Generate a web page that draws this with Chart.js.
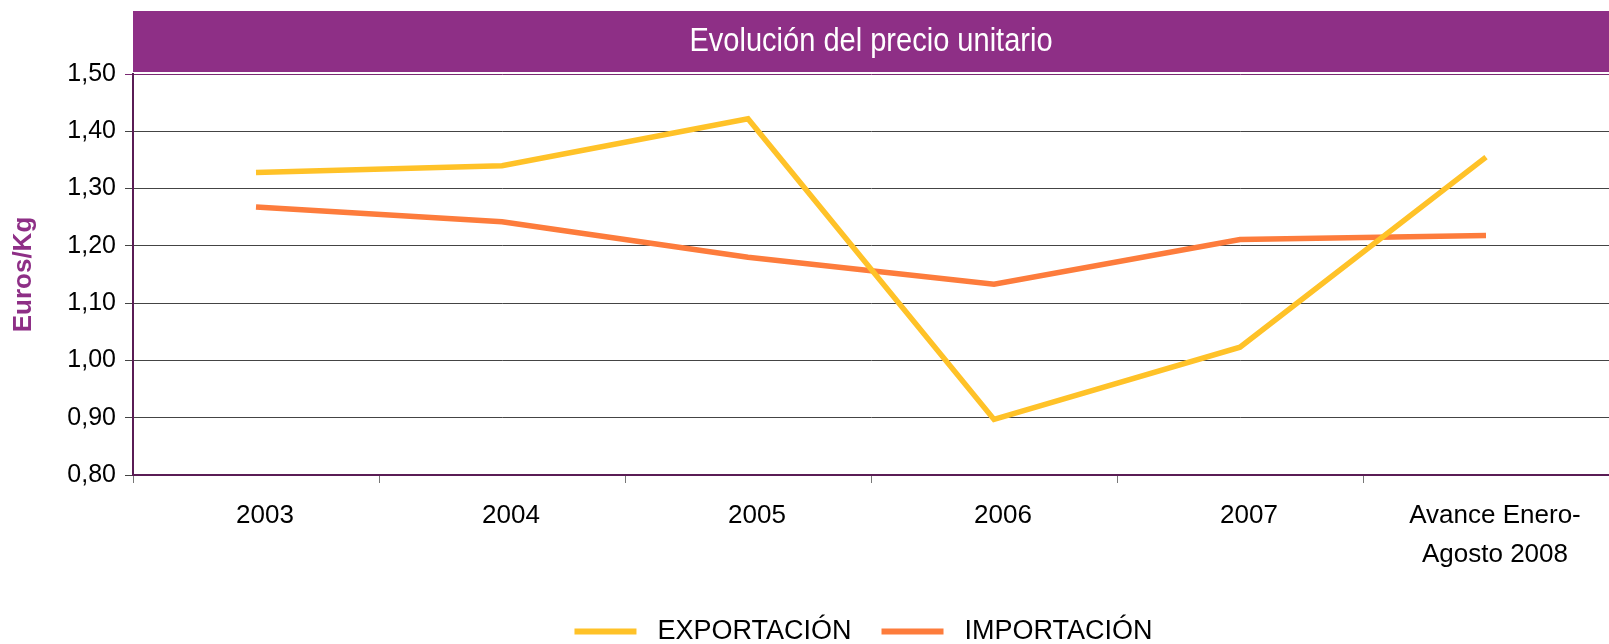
<!DOCTYPE html>
<html lang="es">
<head>
<meta charset="utf-8">
<title>Evolución del precio unitario</title>
<script src="https://cdn.jsdelivr.net/npm/chart.js@4/dist/chart.umd.min.js"></script>
<style>
  html, body { margin: 0; padding: 0; background: #ffffff; }
  #wrap { width: 1609px; height: 644px; }
</style>
</head>
<body>
<div id="wrap"><canvas id="myChart" width="1609" height="644"></canvas></div>
<script>
// chart data
var categories = ['2003', '2004', '2005', '2006', '2007', ['Avance Enero-', 'Agosto 2008']];
var exportacion = [1.328, 1.340, 1.422, 0.897, 1.023, 1.355];
var importacion = [1.268, 1.242, 1.180, 1.133, 1.211, 1.218];
var seriesNames = ['EXPORTACIÓN', 'IMPORTACIÓN'];
var chartTitle = 'Evolución del precio unitario';
var axisTitle = 'Euros/Kg';

var PURPLE = '#8E2F86';

/**
 * Purple header band above the plot with the title text in it
 * (title is a narrow face, so squeeze Liberation Sans a bit)
 */
var headerBand = {
  id: 'headerBand',
  beforeDraw: function(chart) {
    var ctx = chart.ctx;
    var area = chart.chartArea;
    ctx.save();
    ctx.fillStyle = PURPLE;
    ctx.fillRect(area.left, 11, chart.width - area.left, 61);
    ctx.fillStyle = '#ffffff';
    ctx.font = '33px "Liberation Sans", Arial, sans-serif';
    ctx.textAlign = 'center';
    ctx.textBaseline = 'middle';
    ctx.translate((area.left + chart.width) / 2, 42);
    ctx.scale(0.88, 1);
    ctx.fillText(chartTitle, 0, 0);
    ctx.restore();
  }
};

function drawChart() {
  var element = document.getElementById('myChart').getContext('2d');
  Chart.defaults.font.family = '"Liberation Sans", Arial, sans-serif';
  Chart.defaults.color = '#000000';

  var myChart = new Chart(element, {
    type: 'line',
    data: {
      labels: categories,
      datasets: [
        {
          label: seriesNames[0],
          data: exportacion,
          borderColor: '#FFC228',
          backgroundColor: '#FFC228',
          borderWidth: 5.5,
          pointRadius: 0,
          tension: 0,
          fill: false
        },
        {
          label: seriesNames[1],
          data: importacion,
          borderColor: '#FD7C3C',
          backgroundColor: '#FD7C3C',
          borderWidth: 5.5,
          pointRadius: 0,
          tension: 0,
          fill: false
        }
      ]
    },
    options: {
      responsive: false,
      animation: false,
      devicePixelRatio: 1,
      layout: { padding: { top: 74, left: 0, right: 0, bottom: -11 } },
      plugins: {
        title: { display: false },
        tooltip: { enabled: false },
        legend: {
          position: 'bottom',
          fullSize: false,
          labels: {
            font: { size: 27 },
            color: '#000000',
            boxWidth: 62,
            boxHeight: 6,
            padding: 30,
            generateLabels: function(chart) {
              var items = Chart.defaults.plugins.legend.labels.generateLabels(chart);
              items.forEach(function(item, i) {
                item.text = ' ' + item.text + (i === items.length - 1 ? '  ' : '');
                item.fillStyle = item.strokeStyle;
                item.lineWidth = 0;
              });
              return items;
            }
          }
        }
      },
      scales: {
        x: {
          offset: true,
          grid: {
            offset: true,
            drawOnChartArea: false,
            drawTicks: true,
            tickLength: 8,
            color: '#777777'
          },
          border: { color: '#5A1C55', width: 2 },
          ticks: {
            font: { size: 26, lineHeight: 1.5 },
            padding: 13,
            labelOffset: 9,
            maxRotation: 0,
            autoSkip: false
          },
          afterFit: function(scale) { scale.height = 113; }
        },
        y: {
          min: 0.8,
          max: 1.5,
          ticks: {
            stepSize: 0.1,
            font: { size: 25 },
            padding: 9,
            callback: function(value) { return value.toFixed(2).replace('.', ','); }
          },
          grid: {
            tickLength: 8,
            color: function(c) {
              return (c.tick && Math.abs(c.tick.value - 1.5) < 1e-6) ? '#7A2A72' : '#444444';
            },
            lineWidth: 1
          },
          border: { color: '#5A1C55', width: 2 },
          title: {
            display: true,
            text: axisTitle,
            color: PURPLE,
            font: { size: 26, weight: 'bold' },
            padding: { top: 8, bottom: 0 }
          },
          afterFit: function(scale) { scale.width = 133; }
        }
      }
    },
    plugins: [headerBand]
  });
  return myChart;
}

drawChart();
</script>
</body>
</html>
